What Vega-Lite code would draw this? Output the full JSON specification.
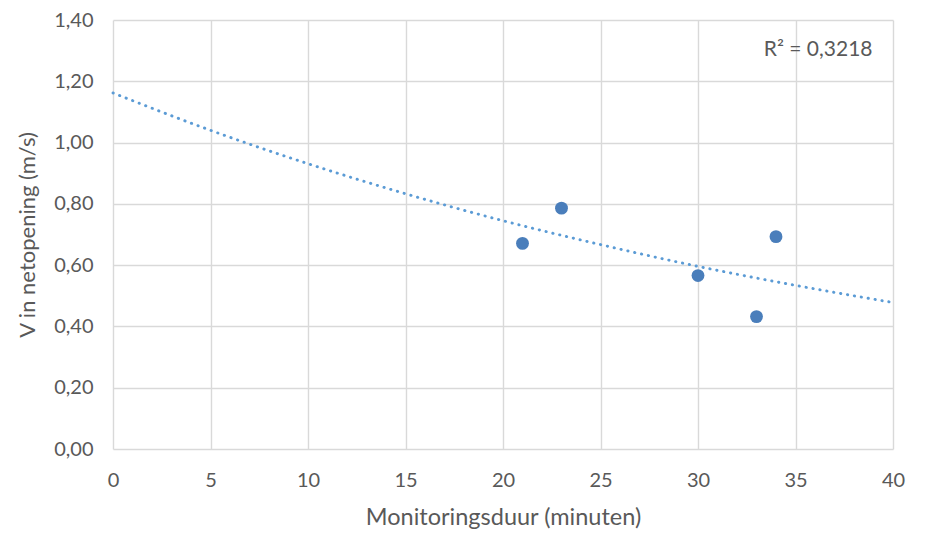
{
  "$schema": "https://vega.github.io/schema/vega-lite/v6.json",
  "width": 780,
  "height": 429,
  "autosize": {"type": "none"},
  "padding": {"left": 113, "top": 20, "right": 32, "bottom": 84},
  "background": "white",
  "config": {
    "view": {"stroke": null},
    "font": "Lato",
    "axis": {"labelFont": "Lato", "titleFont": "Lato", "labelColor": "#595959", "titleColor": "#595959", "gridColor": "#d9d9d9", "gridWidth": 1.4, "domain": false, "ticks": false}
  },
  "datasets": {
    "points": [
      {"duur": 21, "v": 0.671},
      {"duur": 23, "v": 0.786},
      {"duur": 30, "v": 0.566},
      {"duur": 33, "v": 0.432},
      {"duur": 34, "v": 0.693}
    ],
    "trend": [
      {"duur": 0, "v": 1.162},
      {"duur": 5, "v": 1.04},
      {"duur": 10, "v": 0.931},
      {"duur": 15, "v": 0.833},
      {"duur": 20, "v": 0.745},
      {"duur": 25, "v": 0.667},
      {"duur": 30, "v": 0.596},
      {"duur": 35, "v": 0.534},
      {"duur": 40, "v": 0.478}
    ],
    "label": [{"text": "R² = 0,3218"}]
  },
  "layer": [
    {
      "data": {"name": "trend"},
      "mark": {"type": "line", "color": "#5b9bd5", "strokeDash": [0.3, 6.7], "strokeWidth": 2.9, "strokeCap": "round", "interpolate": "monotone"},
      "encoding": {
        "x": {"field": "duur", "type": "quantitative", "scale": {"domain": [0, 40], "nice": false},
          "axis": {"title": "Monitoringsduur (minuten)", "values": [0,5,10,15,20,25,30,35,40], "labelFlush": false, "labelFontSize": 20, "titleFontSize": 23.5, "titleFontWeight": "normal", "labelPadding": 21, "titlePadding": 15}},
        "y": {"field": "v", "type": "quantitative", "scale": {"domain": [0, 1.4], "nice": false},
          "axis": {"title": "V in netopening (m/s)", "values": [0,0.2,0.4,0.6,0.8,1.0,1.2,1.4], "labelExpr": "replace(format(datum.value, '.2f'), '.', ',')", "labelFontSize": 20, "titleFontSize": 22, "titleFontWeight": "normal", "labelPadding": 20, "titlePadding": 14}}
      }
    },
    {
      "data": {"name": "points"},
      "mark": {"type": "circle", "color": "#4a7ebb", "opacity": 1, "size": 165},
      "encoding": {
        "x": {"field": "duur", "type": "quantitative"},
        "y": {"field": "v", "type": "quantitative"}
      }
    },
    {
      "data": {"name": "label"},
      "mark": {"type": "text", "align": "right", "baseline": "middle", "fontSize": 21, "color": "#595959", "font": "Lato"},
      "encoding": {
        "text": {"field": "text"},
        "x": {"datum": 38.95},
        "y": {"datum": 1.303}
      }
    }
  ]
}
